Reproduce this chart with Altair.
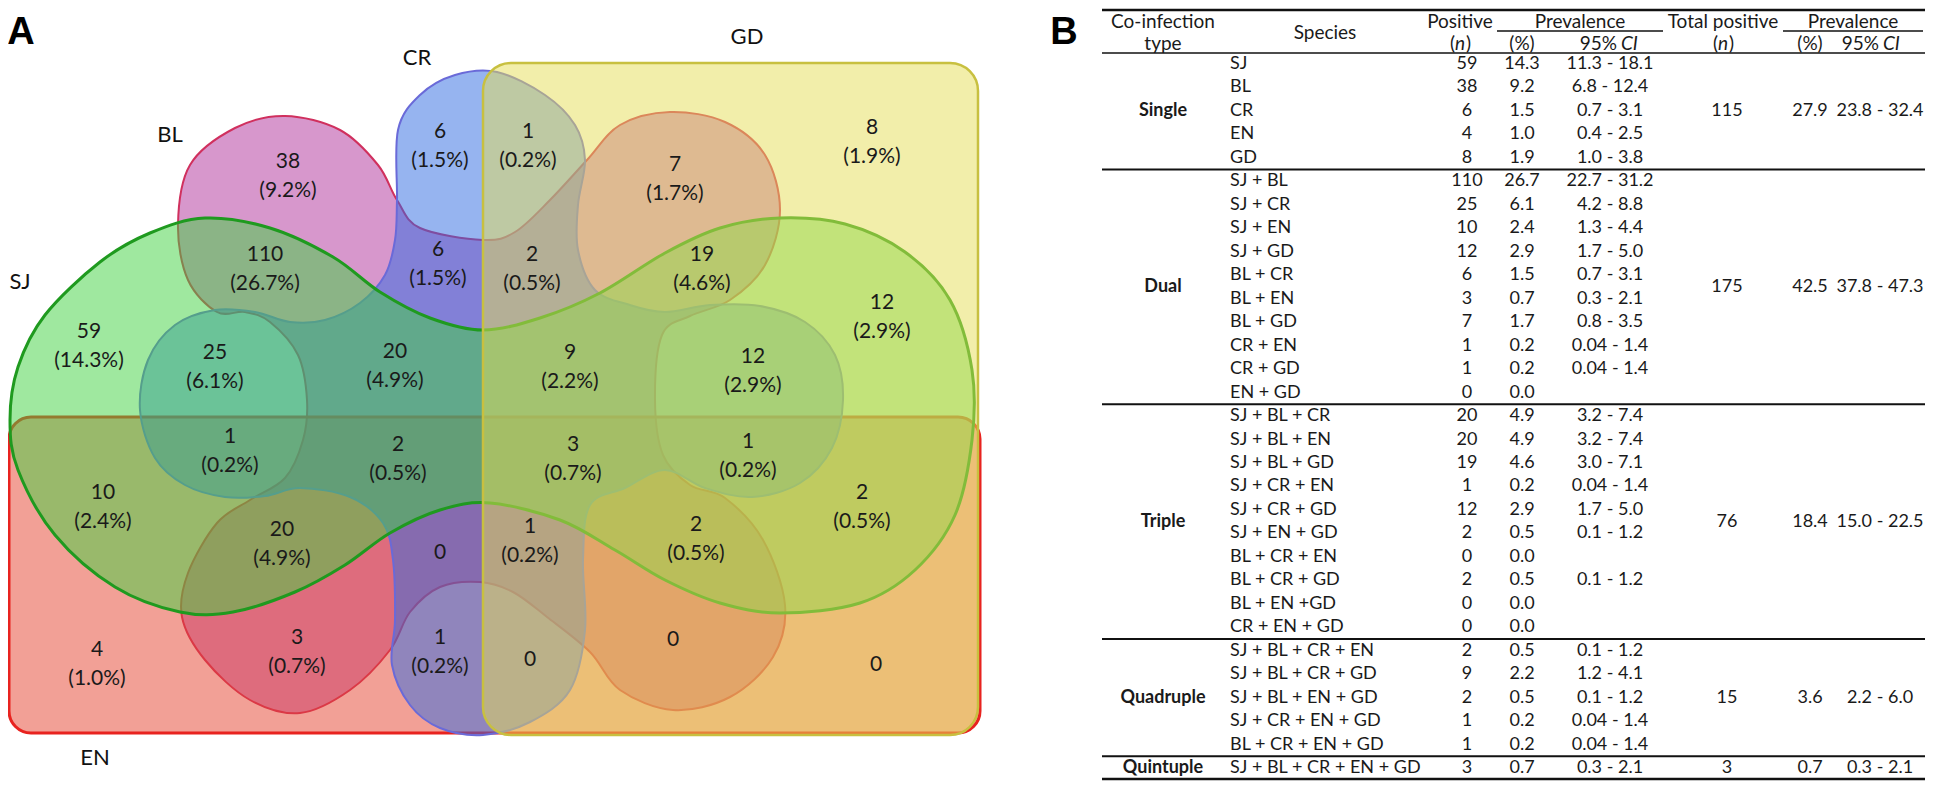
import altair as alt
import pandas as pd

# ---------------- Panel A : Venn diagram ----------------
set_names = ["SJ", "BL", "CR", "GD", "EN"]
set_label_x = [20, 170, 417, 747, 95]
set_label_y = [282, 135, 58, 37, 758]

venn_counts = ["38", "6", "110", "6", "59", "25", "20", "1", "7", "8", "2", "19", "12", "9", "12",
               "1", "2", "3", "1", "10", "2", "20", "0", "1", "2", "4", "3", "1", "0", "0", "0"]
venn_pcts = ["(9.2%)", "(1.5%)", "(26.7%)", "(1.5%)", "(14.3%)", "(6.1%)", "(4.9%)", "(0.2%)", "(1.7%)",
             "(1.9%)", "(0.5%)", "(4.6%)", "(2.9%)", "(2.2%)", "(2.9%)", "(0.2%)", "(0.5%)", "(0.7%)",
             "(0.2%)", "(2.4%)", "(0.5%)", "(4.9%)", "", "(0.2%)", "(0.5%)", "(1.0%)", "(0.7%)", "(0.2%)",
             "", "", ""]
venn_lx = [288, 440, 265, 438, 89, 215, 395, 528, 675, 872, 532, 702, 882, 570, 753,
           230, 398, 573, 748, 103, 862, 282, 440, 530, 696, 97, 297, 440, 530, 673, 876]
venn_ly = [162, 132, 255, 250, 332, 353, 352, 132, 165, 128, 255, 255, 303, 353, 357,
           437, 445, 445, 442, 493, 493, 530, 553, 527, 525, 650, 638, 638, 660, 640, 665]

# outline geometry of the blob-shaped sets (page pixels)
sj_x = [10, 18, 45, 100, 150, 205, 270, 333, 380, 430, 483, 540, 600, 665, 720, 780, 845, 905, 950, 972,
        972, 955, 915, 860, 780, 720, 665, 615, 560, 490, 440, 390, 345, 295, 233, 180, 115, 55, 18]
sj_y = [420, 367, 315, 262, 233, 218, 228, 257, 292, 318, 330, 318, 293, 253, 228, 218, 224, 252, 300, 370,
        440, 515, 570, 603, 613, 603, 580, 550, 520, 503, 510, 533, 565, 592, 612, 612, 587, 535, 470]

bl_x = [217, 188, 178, 190, 235, 285, 340, 378, 397, 420, 483, 515, 550, 587, 620, 670, 725, 765, 780, 765,
        730, 690, 662, 655, 663, 690, 725, 763, 785, 773, 730, 673, 620, 590, 547, 513, 480, 440, 410, 390,
        350, 300, 250, 205, 182, 188, 217, 250, 285, 303, 307, 298, 270, 245]
bl_y = [312, 280, 225, 165, 128, 116, 130, 165, 200, 228, 240, 232, 200, 160, 125, 112, 122, 155, 210, 265,
        300, 316, 335, 400, 455, 485, 498, 540, 605, 657, 697, 710, 690, 652, 617, 592, 582, 587, 612, 650,
        690, 713, 700, 660, 617, 573, 523, 500, 478, 440, 400, 355, 322, 312]

cr_x = [397, 398, 420, 455, 497, 545, 575, 585, 578, 578, 595, 630, 665, 710, 760, 805, 835, 843, 832, 800,
        752, 705, 665, 625, 590, 583, 585, 570, 530, 483, 440, 410, 392, 395, 393, 383, 350, 300, 265, 225,
        185, 155, 140, 148, 175, 215, 255, 290, 325, 360, 385, 395]
cr_y = [200, 130, 95, 75, 72, 95, 125, 160, 205, 250, 290, 305, 312, 305, 306, 322, 355, 400, 448, 483,
        497, 488, 470, 488, 505, 560, 630, 690, 722, 735, 728, 705, 665, 620, 560, 523, 497, 488, 496, 497,
        485, 458, 410, 360, 325, 310, 312, 322, 320, 303, 275, 240]

# rectangular sets
gd_box = [483, 978, 63, 735]
en_box = [9, 980, 417, 733]

# ---------------- Panel B : table ----------------
co_types = ["Single", "Dual", "Triple", "Quadruple", "Quintuple"]
group_sizes = [5, 10, 10, 5, 1]
species = ["SJ", "BL", "CR", "EN", "GD",
           "SJ + BL", "SJ + CR", "SJ + EN", "SJ + GD", "BL + CR", "BL + EN", "BL + GD", "CR + EN", "CR + GD", "EN + GD",
           "SJ + BL + CR", "SJ + BL + EN", "SJ + BL + GD", "SJ + CR + EN", "SJ + CR + GD", "SJ + EN + GD",
           "BL + CR + EN", "BL + CR + GD", "BL + EN +GD", "CR + EN + GD",
           "SJ + BL + CR + EN", "SJ + BL + CR + GD", "SJ + BL + EN + GD", "SJ + CR + EN + GD", "BL + CR + EN + GD",
           "SJ + BL + CR + EN + GD"]
positive = [59, 38, 6, 4, 8,
            110, 25, 10, 12, 6, 3, 7, 1, 1, 0,
            20, 20, 19, 1, 12, 2, 0, 2, 0, 0,
            2, 9, 2, 1, 1,
            3]
prev_pct = ["14.3", "9.2", "1.5", "1.0", "1.9",
            "26.7", "6.1", "2.4", "2.9", "1.5", "0.7", "1.7", "0.2", "0.2", "0.0",
            "4.9", "4.9", "4.6", "0.2", "2.9", "0.5", "0.0", "0.5", "0.0", "0.0",
            "0.5", "2.2", "0.5", "0.2", "0.2",
            "0.7"]
prev_ci = ["11.3 - 18.1", "6.8 - 12.4", "0.7 - 3.1", "0.4 - 2.5", "1.0 - 3.8",
           "22.7 - 31.2", "4.2 - 8.8", "1.3 - 4.4", "1.7 - 5.0", "0.7 - 3.1", "0.3 - 2.1", "0.8 - 3.5",
           "0.04 - 1.4", "0.04 - 1.4", "",
           "3.2 - 7.4", "3.2 - 7.4", "3.0 - 7.1", "0.04 - 1.4", "1.7 - 5.0", "0.1 - 1.2", "", "0.1 - 1.2", "", "",
           "0.1 - 1.2", "1.2 - 4.1", "0.1 - 1.2", "0.04 - 1.4", "0.04 - 1.4",
           "0.3 - 2.1"]
total_pos = ["115", "175", "76", "15", "3"]
total_pct = ["27.9", "42.5", "18.4", "3.6", "0.7"]
total_ci = ["23.8 - 32.4", "37.8 - 47.3", "15.0 - 22.5", "2.2 - 6.0", "0.3 - 2.1"]

# ---------------- layout helpers ----------------
ROW0, STEP = 64, 23.47
row_y = [ROW0 + STEP * k for k in range(len(species))]
grp_y, start = [], 0
for n in group_sizes:
    grp_y.append(ROW0 + STEP * (start + (n - 1) / 2))
    start += n
sep_y = []
start = 0
for n in group_sizes[:-1]:
    start += n
    sep_y.append(ROW0 + STEP * (start - 0.5))
bottom_y = ROW0 + STEP * 30 + 11

X = alt.X("x:Q", scale=alt.Scale(domain=[8, 1938], nice=False, zero=False), axis=None)
Y = alt.Y("y:Q", scale=alt.Scale(domain=[8, 782], nice=False, zero=False, reverse=True), axis=None)

FONT = "Lato"
layers = []


def text_layer(xs, ys, texts, **mk):
    df = pd.DataFrame({"x": xs, "y": ys, "t": texts})
    base = dict(font=FONT, baseline="middle", color="#1a1a1a")
    base.update(mk)
    return alt.Chart(df).mark_text(**base).encode(x=X, y=Y, text="t:N")


def blob(xs, ys, fill, stroke, sw):
    df = pd.DataFrame({"x": xs, "y": ys, "i": list(range(len(xs)))})
    return alt.Chart(df).mark_line(interpolate="cardinal-closed", fill=fill, fillOpacity=0.5,
                                   stroke=stroke, strokeWidth=sw).encode(x=X, y=Y, order="i:Q")


def box(b, fill, stroke, sw, r):
    df = pd.DataFrame({"x": [b[0]], "x2": [b[1]], "y": [b[2]], "y2": [b[3]]})
    return alt.Chart(df).mark_rect(fill=fill, fillOpacity=0.5, stroke=stroke, strokeWidth=sw,
                                   cornerRadius=r).encode(x=X, x2="x2:Q", y=Y, y2="y2:Q")


def hrule(x0, x1, y, sw):
    df = pd.DataFrame({"x": [x0], "x2": [x1], "y": [y]})
    return alt.Chart(df).mark_rule(color="#111111", strokeWidth=sw).encode(x=X, x2="x2:Q", y=Y)


# Venn sets
layers.append(blob(bl_x, bl_y, "#b02f9a", "#d0305e", 2))
layers.append(box(en_box, "#e5412d", "#e8231f", 3, 22))
layers.append(blob(cr_x, cr_y, "#2d69e1", "#6a6ad8", 2))
layers.append(blob(sj_x, sj_y, "#3fd13f", "#1f9a1f", 3))
layers.append(box(gd_box, "#e5dd55", "#c8c040", 2.5, 28))

# Venn labels
layers.append(text_layer(venn_lx, venn_ly, venn_counts, fontSize=21, align="center"))
layers.append(text_layer(venn_lx, [v + 29 for v in venn_ly], venn_pcts, fontSize=21, align="center"))
layers.append(text_layer(set_label_x, set_label_y, set_names, fontSize=22, align="center", color="#111111"))

# panel letters
layers.append(text_layer([21, 1064], [33, 33], ["A", "B"], fontSize=38, fontWeight="bold",
                         font="Liberation Sans", align="center", color="#000000"))

# table rules
TL, TR = 1102, 1925
layers.append(hrule(TL, TR, 10, 2.5))
layers.append(hrule(TL, TR, 53, 1.5))
layers.append(hrule(1497, 1663, 31, 1.5))
layers.append(hrule(1783, 1923, 31, 1.5))
for yy in sep_y:
    layers.append(hrule(TL, TR, yy, 2))
layers.append(hrule(TL, TR, bottom_y, 2.5))

# table header
HF = 19
R1, R2 = 22, 44
layers.append(text_layer([1163, 1163, 1460, 1580, 1723, 1853], [R1, R2, R1, R1, R1, R1],
                         ["Co-infection", "type", "Positive", "Prevalence", "Total positive", "Prevalence"],
                         fontSize=HF, align="center"))
layers.append(text_layer([1325], [33], ["Species"], fontSize=HF, align="center"))
layers.append(text_layer([1522, 1810], [R2, R2], ["(%)", "(%)"], fontSize=HF, align="center"))
# "(n)" with italic n
layers.append(text_layer([1460, 1723], [R2, R2], ["n", "n"], fontSize=HF, align="center", fontStyle="italic"))
layers.append(text_layer([1455, 1718], [R2, R2], ["(", "("], fontSize=HF, align="right"))
layers.append(text_layer([1466, 1729], [R2, R2], [")", ")"], fontSize=HF, align="left"))
# "95% CI" with italic CI
layers.append(text_layer([1617, 1879], [R2, R2], ["95%", "95%"], fontSize=HF, align="right"))
layers.append(text_layer([1621, 1883], [R2, R2], ["CI", "CI"], fontSize=HF, align="left", fontStyle="italic"))

# table body
BF = 18
layers.append(text_layer([1163] * len(co_types), grp_y, co_types, fontSize=BF, fontWeight="bold", align="center"))
layers.append(text_layer([1230] * len(species), row_y, species, fontSize=BF, align="left"))
layers.append(text_layer([1467] * len(species), row_y, [str(v) for v in positive], fontSize=BF, align="center"))
layers.append(text_layer([1522] * len(species), row_y, prev_pct, fontSize=BF, align="center"))
layers.append(text_layer([1610] * len(species), row_y, prev_ci, fontSize=BF, align="center"))
layers.append(text_layer([1727] * len(co_types), grp_y, total_pos, fontSize=BF, align="center"))
layers.append(text_layer([1810] * len(co_types), grp_y, total_pct, fontSize=BF, align="center"))
layers.append(text_layer([1880] * len(co_types), grp_y, total_ci, fontSize=BF, align="center"))

chart = alt.layer(*layers).properties(
    width=1930, height=774,
    autosize=alt.AutoSizeParams(type="none"),
    padding=0,
).configure_view(stroke=None)

chart.save("out.html", embed_options={"renderer": "svg", "actions": False})
